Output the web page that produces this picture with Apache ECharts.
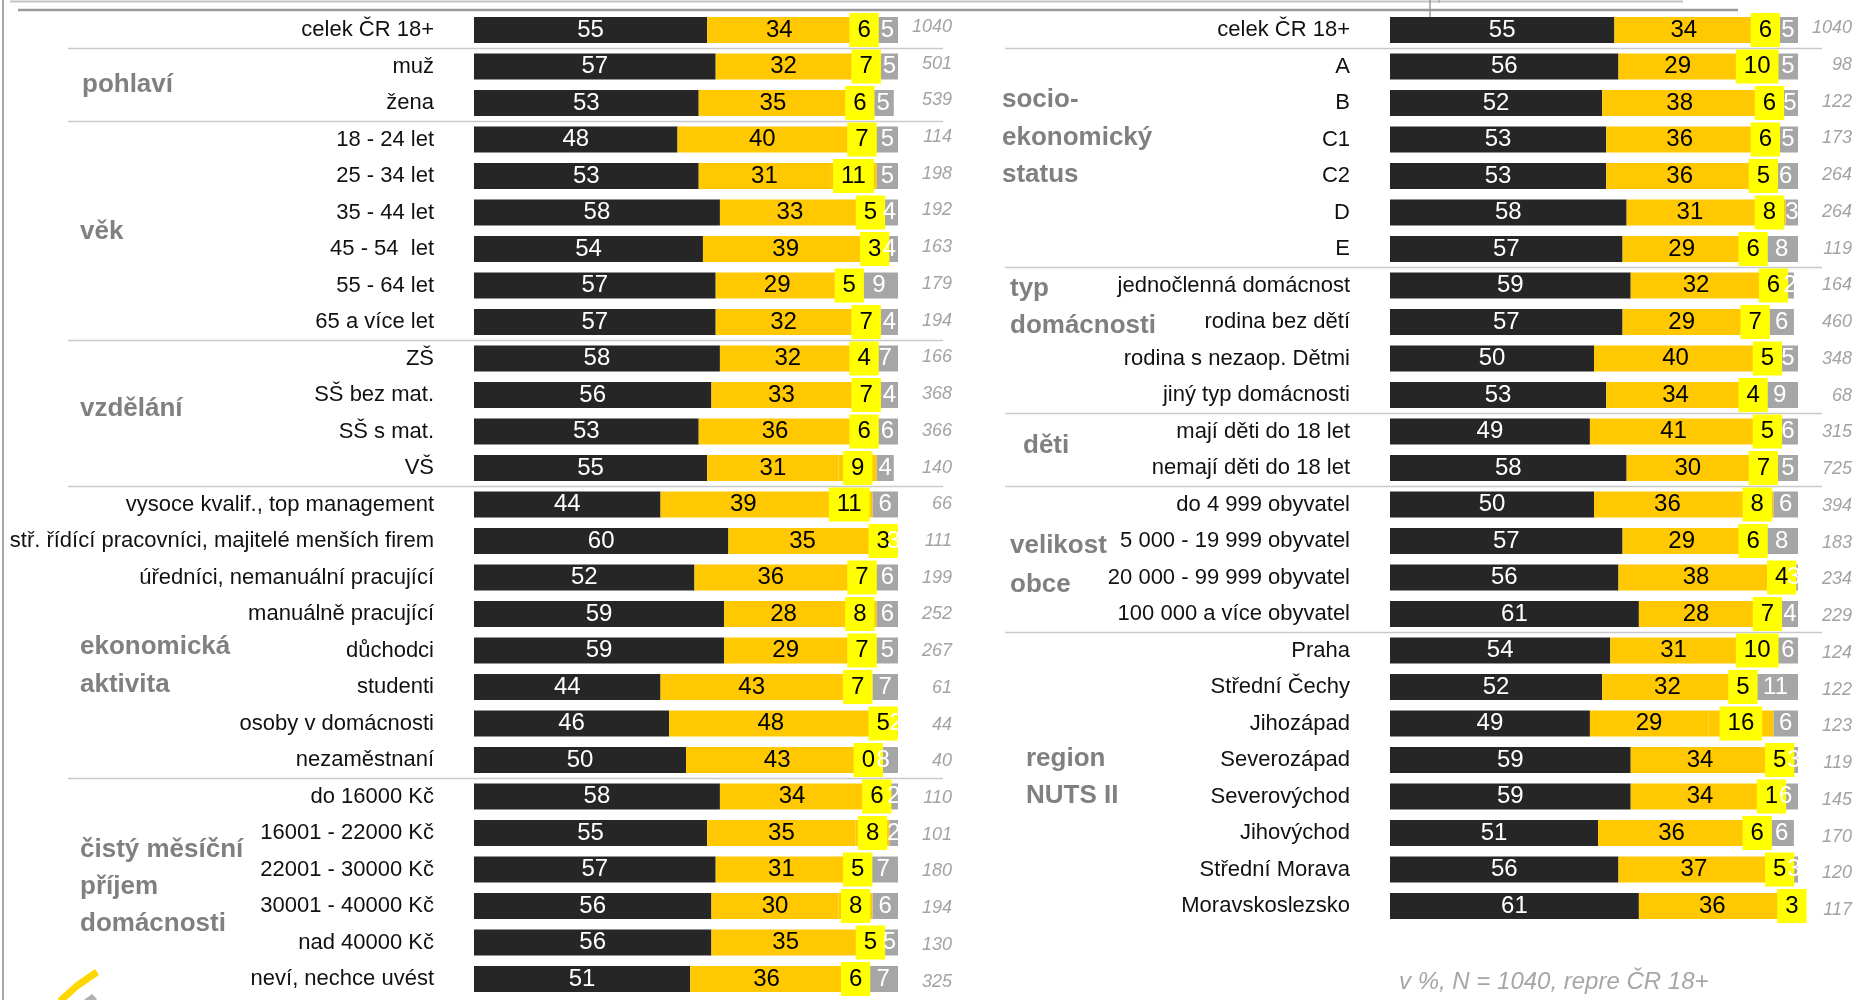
<!DOCTYPE html>
<html><head><meta charset="utf-8">
<script src="https://cdn.jsdelivr.net/npm/echarts@6/dist/echarts.min.js"></script>
<style>html,body{margin:0;padding:0;background:#fff}#c{width:1855px;height:1000px}</style>
</head><body><div id="c"></div>
<script>
// ---------- DATA ----------
const leftCategories = ['celek ČR 18+','muž','žena','18 - 24 let','25 - 34 let','35 - 44 let','45 - 54  let','55 - 64 let','65 a více let','ZŠ','SŠ bez mat.','SŠ s mat.','VŠ','vysoce kvalif., top management','stř. řídící pracovníci, majitelé menších firem','úředníci, nemanuální pracující','manuálně pracující','důchodci','studenti','osoby v domácnosti','nezaměstnaní','do 16000 Kč','16001 - 22000 Kč','22001 - 30000 Kč','30001 - 40000 Kč','nad 40000 Kč','neví, nechce uvést'];
const leftS1 = [55,57,53,48,53,58,54,57,57,58,56,53,55,44,60,52,59,59,44,46,50,58,55,57,56,56,51];
const leftS2 = [34,32,35,40,31,33,39,29,32,32,33,36,31,39,35,36,28,29,43,48,43,34,35,31,30,35,36];
const leftS3 = [6,7,6,7,11,5,3,5,7,4,7,6,9,11,3,7,8,7,7,5,0,6,8,5,8,5,6];
const leftS4 = [5,5,5,5,5,4,4,9,4,7,4,6,4,6,3,6,6,5,7,2,8,2,2,7,6,5,7];
const leftN = [1040,501,539,114,198,192,163,179,194,166,368,366,140,66,111,199,252,267,61,44,40,110,101,180,194,130,325];
const leftGroups = ['pohlaví','věk','vzdělání','ekonomická\naktivita','čistý měsíční\npříjem\ndomácnosti'];
const leftGroupStarts = [1,3,9,13,21];

const rightCategories = ['celek ČR 18+','A','B','C1','C2','D','E','jednočlenná domácnost','rodina bez dětí','rodina s nezaop. Dětmi','jiný typ domácnosti','mají děti do 18 let','nemají děti do 18 let','do 4 999 obyvatel','5 000 - 19 999 obyvatel','20 000 - 99 999 obyvatel','100 000 a více obyvatel','Praha','Střední Čechy','Jihozápad','Severozápad','Severovýchod','Jihovýchod','Střední Morava','Moravskoslezsko'];
const rightS1 = [55,56,52,53,53,58,57,59,57,50,53,49,58,50,57,56,61,54,52,49,59,59,51,56,61];
const rightS2 = [34,29,38,36,36,31,29,32,29,40,34,41,30,36,29,38,28,31,32,29,34,34,36,37,36];
const rightS3 = [6,10,6,6,5,8,6,6,7,5,4,5,7,8,6,4,7,10,5,16,5,1,6,5,3];
const rightS4 = [5,5,5,5,6,3,8,2,6,5,9,6,5,6,8,3,4,6,11,6,3,6,6,3,0];
const rightN = [1040,98,122,173,264,264,119,164,460,348,68,315,725,394,183,234,229,124,122,123,119,145,170,120,117];
const rightGroups = ['socio-\nekonomický\nstatus','typ\ndomácnosti','děti','velikost\nobce','region\nNUTS II'];
const rightGroupStarts = [1,7,11,13,17];

const seriesNames = ['řada 1','řada 2','řada 3','řada 4'];
const footnote = 'v %, N = 1040, repre ČR 18+';

// ---------- STYLE / LAYOUT ----------
const FONT = "'Liberation Sans', Arial, sans-serif";
function hasFont(name){
  const c = document.createElement('canvas').getContext('2d');
  const s = '1040 abcdefghij ČR';
  c.font = '40px monospace'; const a = c.measureText(s).width;
  c.font = "40px '" + name + "', monospace"; const b = c.measureText(s).width;
  return Math.abs(a - b) > 0.5;
}
const narrowOK = hasFont('Liberation Sans Narrow');
const nFont = narrowOK ? "'Liberation Sans Narrow', sans-serif" : FONT;
const nSize = narrowOK ? 20 : 18;

const COLORS = ['#262626', '#FFC800', '#FFC800', '#A6A6A6'];
const BAND = 36.5;
const TOP = 30 - BAND / 2;

const grids = [
  {left: 474, width: 424, top: TOP, height: leftCategories.length * BAND},    // 0 left bars
  {left: 1390, width: 408, top: TOP, height: rightCategories.length * BAND},  // 1 right bars
  {left: 900, width: 44, top: 27 - 37.04 / 2, height: leftN.length * 37.04},  // 2 left N
  {left: 1800, width: 45, top: 28 - 36.75 / 2, height: rightN.length * 36.75} // 3 right N
];

const xAxes = grids.map((g, i) => ({type: 'value', gridIndex: i, min: 0, max: 100, show: false}));

const catAxisBase = {
  type: 'category', inverse: true,
  axisLine: {show: false}, axisTick: {show: false}, splitLine: {show: false}
};
const yAxes = [
  Object.assign({}, catAxisBase, {gridIndex: 0, data: leftCategories,
    axisLabel: {interval: 0, margin: 40, fontSize: 22, color: '#111', fontFamily: FONT}}),
  Object.assign({}, catAxisBase, {gridIndex: 1, data: rightCategories,
    axisLabel: {interval: 0, margin: 40, fontSize: 22, color: '#111', fontFamily: FONT}}),
  Object.assign({}, catAxisBase, {gridIndex: 2, position: 'right', data: leftN.map((_, i) => 'n' + i),
    axisLabel: {interval: 0, margin: 8, align: 'right', fontSize: nSize, fontStyle: 'italic', color: '#a3a3a3', fontFamily: nFont,
      formatter: (v, i) => String(leftN[i])}}),
  Object.assign({}, catAxisBase, {gridIndex: 3, position: 'right', data: rightN.map((_, i) => 'm' + i),
    axisLabel: {interval: 0, margin: 8, align: 'right', fontSize: nSize, fontStyle: 'italic', color: '#a3a3a3', fontFamily: nFont,
      formatter: (v, i) => String(rightN[i])}})
];

function barSeries(idx, data, k, stack) {
  const label = {show: true, position: 'inside', fontSize: 24, fontFamily: FONT, color: '#fff'};
  if (k === 1) label.color = '#000';
  if (k === 2) Object.assign(label, {color: '#000', backgroundColor: '#FFFF00', padding: [5, 8], lineHeight: 24});
  if (k === 3) label.formatter = p => (p.value ? String(p.value) : '');
  return {
    type: 'bar', name: seriesNames[k], stack: stack, xAxisIndex: idx, yAxisIndex: idx,
    data: data, barWidth: 26, silent: true,
    itemStyle: {color: COLORS[k]}, label: label
  };
}
const series = [
  barSeries(0, leftS1, 0, 'L'), barSeries(0, leftS2, 1, 'L'), barSeries(0, leftS3, 2, 'L'), barSeries(0, leftS4, 3, 'L'),
  barSeries(1, rightS1, 0, 'R'), barSeries(1, rightS2, 1, 'R'), barSeries(1, rightS3, 2, 'R'), barSeries(1, rightS4, 3, 'R')
];

// group label placement (decorative text)
const leftGroupPos = [[82, 85, 37], [80, 232, 37], [80, 409, 37], [80, 666, 38], [80, 887, 37]];
const rightGroupPos = [[1002, 137.5, 37.5], [1010, 307, 37], [1023, 446, 37], [1010, 565, 39], [1026, 777, 37]];
function groupText(t, p) {
  return {type: 'text', x: p[0], y: p[1], silent: true,
    style: {text: t, fill: '#808080', fontSize: 26, fontWeight: 'bold', fontFamily: FONT,
      verticalAlign: 'middle', align: 'left', lineHeight: p[2]}};
}
const graphics = [];
leftGroups.forEach((t, i) => graphics.push(groupText(t, leftGroupPos[i])));
rightGroups.forEach((t, i) => graphics.push(groupText(t, rightGroupPos[i])));
graphics.push({type: 'text', x: 1399, y: 982, silent: true,
  style: {text: footnote, fill: '#a6a6a6', fontSize: 24, fontStyle: 'italic', fontFamily: FONT, verticalAlign: 'middle'}});
// frame decorations
graphics.push({type: 'line', silent: true, shape: {x1: 10, y1: 1.5, x2: 1683, y2: 1.5}, style: {stroke: '#c4c4c4', lineWidth: 2}});
graphics.push({type: 'line', silent: true, shape: {x1: 18, y1: 10, x2: 1738, y2: 10}, style: {stroke: '#9a9a9a', lineWidth: 2.5}});
graphics.push({type: 'line', silent: true, shape: {x1: 1430, y1: 0, x2: 1430, y2: 17}, style: {stroke: '#9a9a9a', lineWidth: 1.5}});
graphics.push({type: 'line', silent: true, shape: {x1: 1439, y1: 0, x2: 1439, y2: 3}, style: {stroke: '#9a9a9a', lineWidth: 1}});
graphics.push({type: 'line', silent: true, shape: {x1: 3, y1: 0, x2: 3, y2: 1000}, style: {stroke: '#a8a8a8', lineWidth: 2}});
graphics.push({type: 'polyline', silent: true, shape: {points: [[97, 972], [78, 985], [60, 1001]]}, style: {stroke: '#FFD700', lineWidth: 7, fill: null}});
graphics.push({type: 'polygon', silent: true, shape: {points: [[92, 994], [97, 999], [96, 1000], [84, 1000]]}, style: {fill: '#b0b0b0'}});

const chart = echarts.init(document.getElementById('c'), null, {renderer: 'canvas'});
chart.setOption({
  backgroundColor: '#fff',
  animation: false,
  grid: grids,
  xAxis: xAxes,
  yAxis: yAxes,
  series: series,
  graphic: graphics
});

// group separator lines, placed between category bands via the axis scale
function separators(cats, starts, axisIdx, x1, x2) {
  return starts.map(i => {
    const yA = chart.convertToPixel({yAxisIndex: axisIdx}, cats[i - 1]);
    const yB = chart.convertToPixel({yAxisIndex: axisIdx}, cats[i]);
    const y = Math.round((yA + yB) / 2) + 0.5;
    return {type: 'line', silent: true, z: -1, shape: {x1: x1, y1: y, x2: x2, y2: y}, style: {stroke: '#c9c9c9', lineWidth: 1.5}};
  });
}
chart.setOption({
  graphic: graphics.concat(
    separators(leftCategories, leftGroupStarts, 0, 68, 943),
    separators(rightCategories, rightGroupStarts, 1, 1005, 1822)
  )
});
</script></body></html>
